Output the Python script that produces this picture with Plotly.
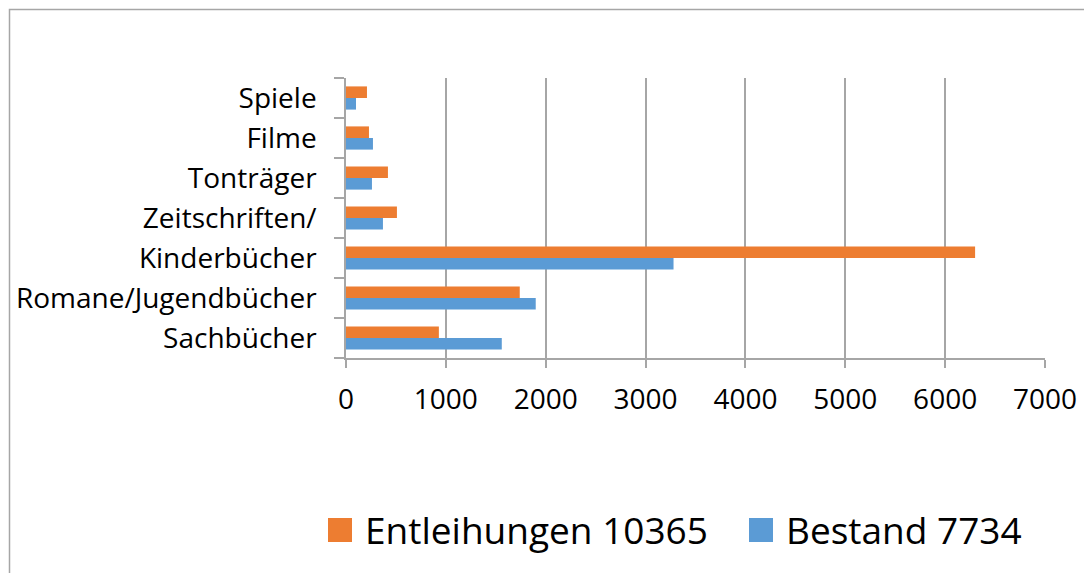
"""
Horizontal bar chart: Entleihungen vs. Bestand per Medienart
"""
import plotly.graph_objects as go

# categories from bottom to top
categories = ["Sachbücher", "Romane/Jugendbücher", "Kinderbücher",
              "Zeitschriften/", "Tonträger", "Filme", "Spiele"]
entleihungen = [930, 1740, 6300, 510, 420, 230, 210]
bestand = [1560, 1900, 3280, 370, 260, 270, 100]

series_names = ["Entleihungen 10365", "Bestand 7734"]
series_colors = ["#ED7D31", "#5B9BD5"]

x_ticks = [0, 1000, 2000, 3000, 4000, 5000, 6000, 7000]

W, H = 1084, 573
L, R, T, B = 346, 1045, 78, 358  # plot area in pixels
PW, PH = R - L, B - T


def px_x(px):
    return (px - L) / PW


def px_y(py):
    return (B - py) / PH


FONT = "Open Sans"
GRID = "#a6a6a6"

fig = go.Figure()

# Bestand first so it sits below Entleihungen in each group
fig.add_trace(go.Bar(
    y=categories, x=bestand, orientation="h", name=series_names[1],
    marker=dict(color=series_colors[1], line=dict(width=0)), showlegend=False,
))
fig.add_trace(go.Bar(
    y=categories, x=entleihungen, orientation="h", name=series_names[0],
    marker=dict(color=series_colors[0], line=dict(width=0)), showlegend=False,
))

shapes = [
    # outer chart border (runs off the right and bottom edges)
    dict(type="rect", xref="paper", yref="paper",
         x0=px_x(9.5), x1=px_x(W + 20), y0=px_y(9.5), y1=px_y(H + 20),
         line=dict(color=GRID, width=1.5), fillcolor="rgba(0,0,0,0)", layer="below"),
]
annotations = []

# hand-made legend with large squares
legend_x = [328, 749]
for name, color, lx in zip(series_names, series_colors, legend_x):
    shapes.append(dict(type="rect", xref="paper", yref="paper",
                       x0=px_x(lx), x1=px_x(lx + 24), y0=px_y(518), y1=px_y(542),
                       line=dict(width=0), fillcolor=color))
    annotations.append(dict(xref="paper", yref="paper", x=px_x(lx + 35), y=px_y(529),
                            xanchor="left", yanchor="middle", showarrow=False,
                            text=name, font=dict(family=FONT, size=37, color="#000")))

fig.update_layout(
    width=W, height=H,
    margin=dict(l=L, r=W - R, t=T, b=H - B, pad=0, autoexpand=False),
    paper_bgcolor="white", plot_bgcolor="white",
    barmode="group", bargap=0.42, bargroupgap=0,
    font=dict(family=FONT, color="#000"),
    shapes=shapes, annotations=annotations,
    showlegend=False,
)

fig.update_xaxes(
    range=[0, 7000], tickvals=x_ticks, ticktext=[str(v) for v in x_ticks],
    showgrid=True, gridcolor=GRID, gridwidth=1.5,
    showline=True, linecolor=GRID, linewidth=1.5,
    ticks="outside", ticklen=8, tickcolor=GRID, tickwidth=1.5,
    tickfont=dict(family=FONT, size=28, color="#000"),
    ticklabelstandoff=8, zeroline=False, fixedrange=True, automargin=False,
)
fig.update_yaxes(
    type="category", categoryorder="array", categoryarray=categories,
    showgrid=False, showline=True, linecolor=GRID, linewidth=1.5,
    ticks="outside", ticklen=10, tickcolor=GRID, tickwidth=1.5,
    tickson="boundaries",
    tickfont=dict(family=FONT, size=28, color="#000"),
    ticklabelstandoff=22, fixedrange=True, automargin=False,
)

# drop the browser's default body margin so the figure sits at (0, 0)
fig.write_html("out.html", config={"displayModeBar": False},
               post_script="document.body.style.margin='0';")
